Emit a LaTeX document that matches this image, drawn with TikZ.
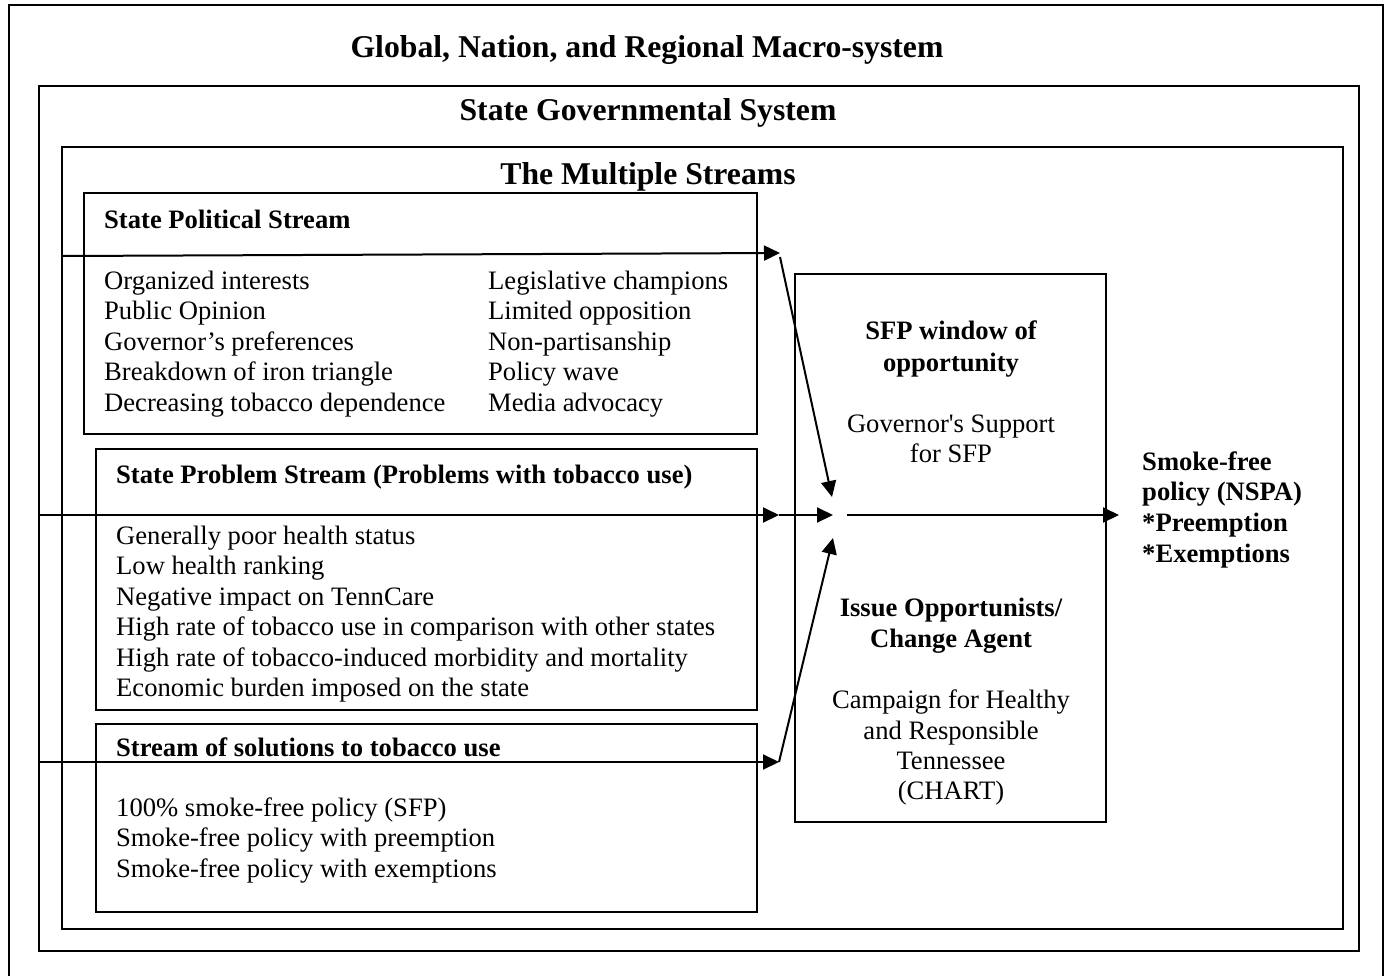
\documentclass[tikz,border=0pt]{standalone}
\usepackage{fontspec}
\setmainfont{Liberation Serif}
\usetikzlibrary{arrows.meta}
\begin{document}
\begin{tikzpicture}[x=1pt,y=-1pt,
  box/.style={draw, inner sep=0pt, outer sep=0pt, anchor=north west},
  frame/.style={box, line width=2.6pt},
  panel/.style={box, line width=1.7pt},
  body/.style={inner sep=0pt, font=\fontsize{26.6}{30.5}\selectfont},
  txt/.style={body, anchor=base west},
  hdr/.style={body, anchor=base west, font=\fontsize{26.6}{30.5}\selectfont\bfseries},
  ctr/.style={body, anchor=base},
  ctrb/.style={body, anchor=base, font=\fontsize{26.6}{30.5}\selectfont\bfseries},
  title/.style={inner sep=0pt, anchor=base, font=\fontsize{31.7}{36}\selectfont\bfseries},
  arr/.style={line width=2pt, -{Triangle[length=16pt,width=15pt]}}]
\useasboundingbox (0,0) rectangle (1390,975);

% nested system frames
\node[frame, minimum width=1374pt, minimum height=990pt] (macro) at (9,5) {};
\node[frame, minimum width=1320pt, minimum height=865pt] (state) at (39,86) {};
\node[frame, minimum width=1281pt, minimum height=782pt] (streams) at (62,147) {};

\node[title] (tmacro) at (647,57) {Global, Nation, and Regional Macro-system};
\node[title] (tstate) at (648,120) {State Governmental System};
\node[title] (tstreams) at (648,184) {The Multiple Streams};

% the three streams and the window box
\node[panel, minimum width=673pt, minimum height=241pt] (pol) at (84,193) {};
\node[panel, minimum width=661pt, minimum height=261pt] (prob) at (96,449) {};
\node[panel, minimum width=661pt, minimum height=188pt] (sol) at (96,724) {};
\node[panel, minimum width=311pt, minimum height=548pt] (win) at (795,274) {};

% political stream
\node[hdr] (polh) at (104,228) {State Political Stream};
\foreach \t [count=\i] in {Organized interests, Public Opinion, Governor’s preferences,
    Breakdown of iron triangle, Decreasing tobacco dependence}
  \node[txt] (pola\i) at (104,{289+30.5*(\i-1)}) {\t};
\foreach \t [count=\i] in {Legislative champions, Limited opposition, Non-partisanship,
    Policy wave, Media advocacy}
  \node[txt] (polb\i) at (488,{289+30.5*(\i-1)}) {\t};

% problem stream
\node[hdr] (probh) at (116,483) {State Problem Stream (Problems with tobacco use)};
\foreach \t [count=\i] in {Generally poor health status, Low health ranking,
    Negative impact on TennCare,
    High rate of tobacco use in comparison with other states,
    High rate of tobacco-induced morbidity and mortality,
    Economic burden imposed on the state}
  \node[txt] (proba\i) at (116,{544+30.5*(\i-1)}) {\t};

% solution stream
\node[hdr] (solh) at (116,756) {Stream of solutions to tobacco use};
\foreach \t [count=\i] in {100\% smoke-free policy (SFP), Smoke-free policy with preemption,
    Smoke-free policy with exemptions}
  \node[txt] (sola\i) at (116,{816+30.5*(\i-1)}) {\t};

% window of opportunity
\node[ctrb] (w1) at (951,339) {SFP window of};
\node[ctrb] (w2) at (951,371) {opportunity};
\node[ctr] (w3) at (951,432) {Governor\textquotesingle s Support};
\node[ctr] (w4) at (951,462) {for SFP};
\node[ctrb] (w5) at (951,616) {Issue Opportunists/};
\node[ctrb] (w6) at (951,647) {Change Agent};
\node[ctr] (w7) at (951,708) {Campaign for Healthy};
\node[ctr] (w8) at (951,739) {and Responsible};
\node[ctr] (w9) at (951,769) {Tennessee};
\node[ctr] (w10) at (951,799) {(CHART)};

% outcome
\node[hdr] (o1) at (1142,470) {Smoke-free};
\node[hdr] (o2) at (1142,500) {policy (NSPA)};
\node[hdr] (o3) at (1142,531) {*Preemption};
\node[hdr] (o4) at (1142,562) {*Exemptions};

% stream flows
\coordinate (polIn) at (streams.west |- 0,256);
\coordinate (polTip) at (780,253);
\coordinate (polOut) at (780,257);
\coordinate (probIn) at (state.west |- 0,515);
\coordinate (probTip) at (779,515);
\coordinate (solIn) at (state.west |- 0,762);
\coordinate (solTip) at (779,762);
\coordinate (hubTop) at (832,497);
\coordinate (hub) at (833,515);
\coordinate (hubBot) at (833,538);
\coordinate (outStart) at (847,515);
\coordinate (outTip) at (1119,515);

\draw[arr] (polIn) -- (polTip);
\draw[arr] (polOut) -- (hubTop);
\draw[arr] (probIn) -- (probTip);
\draw[arr] (probTip) -- (hub);
\draw[arr] (solIn) -- (solTip);
\draw[arr] (solTip) -- (hubBot);
\draw[arr] (outStart) -- (outTip);
\end{tikzpicture}
\end{document}
